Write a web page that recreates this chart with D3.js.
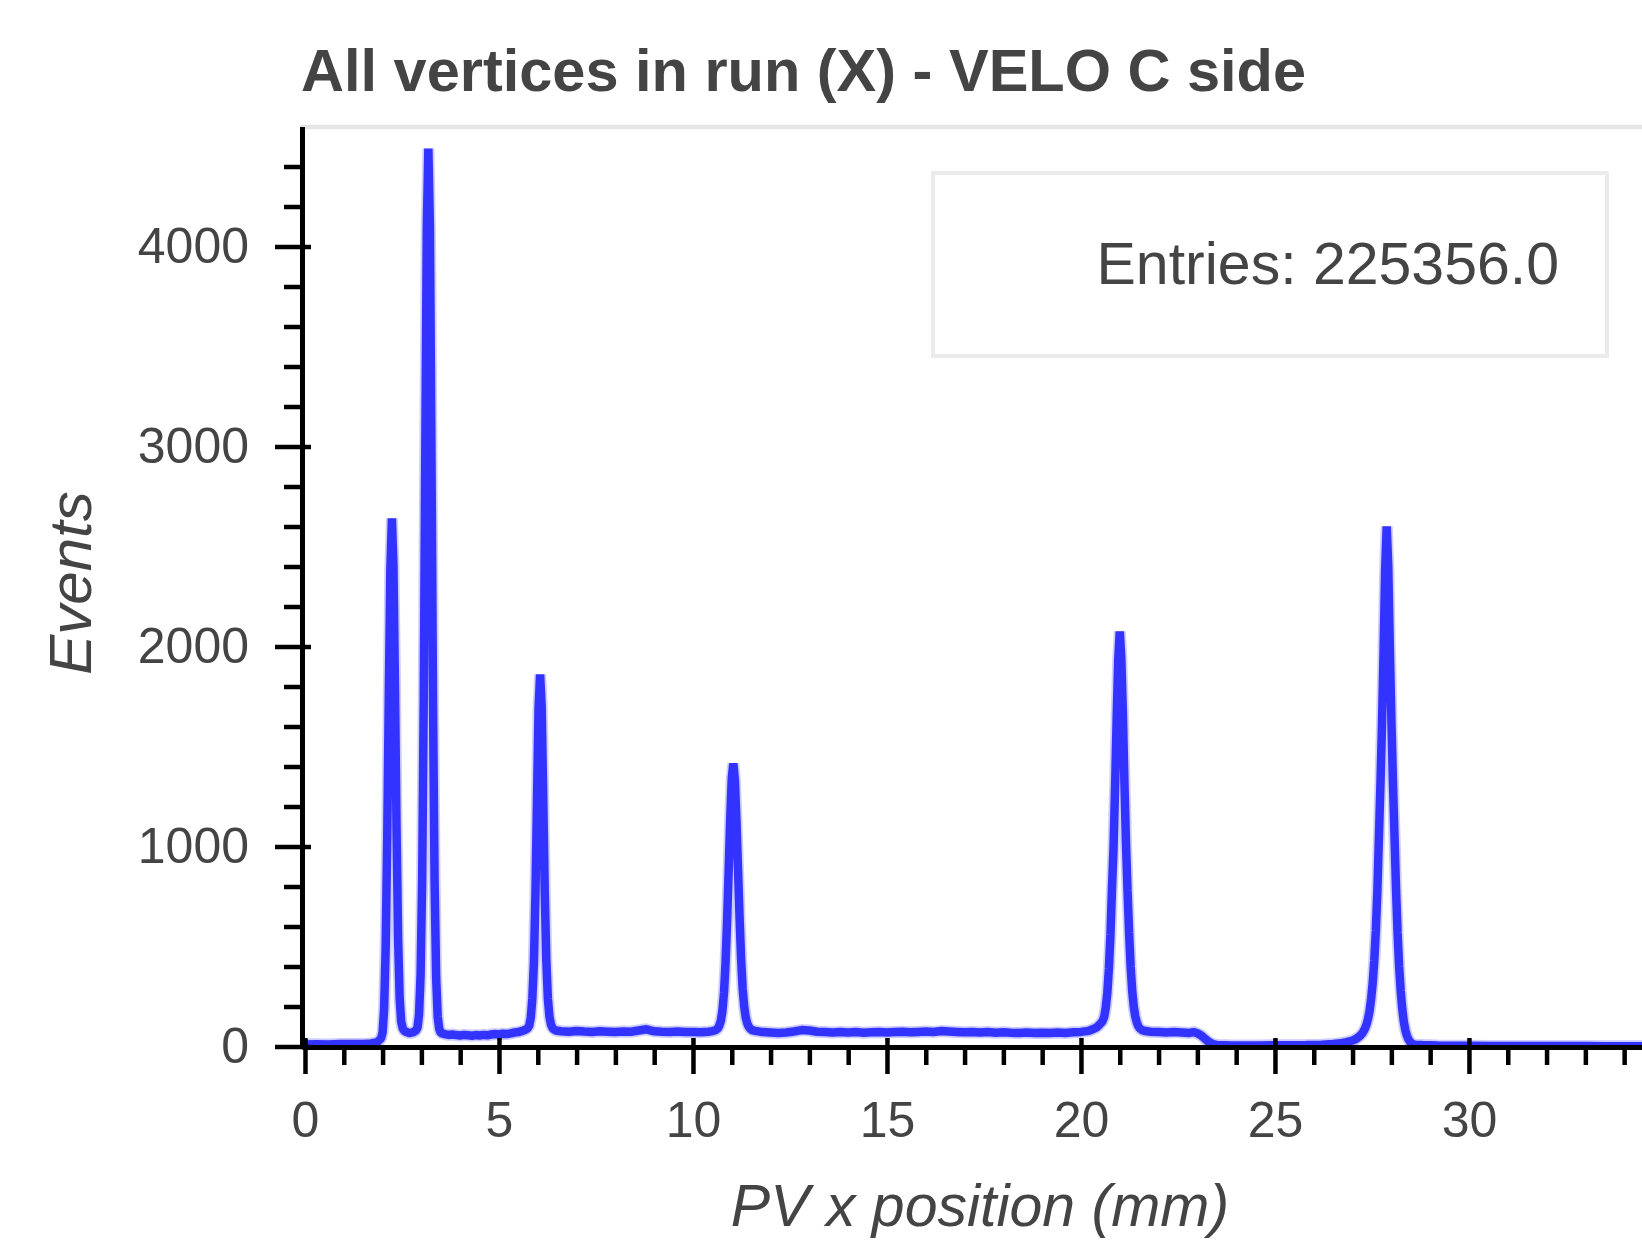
<!DOCTYPE html>
<html><head><meta charset="utf-8">
<script src="https://cdn.jsdelivr.net/npm/d3@7"></script>
<style>html,body{margin:0;padding:0;background:#fff;} svg{display:block;}</style>
</head><body>
<svg id="chart" width="1642" height="1242"></svg>
<script>
// ---------- chart texts ----------
const titleText = "All vertices in run (X) - VELO C side";
const xLabelText = "PV x position (mm)";
const yLabelText = "Events";
const entriesText = "Entries: 225356.0";

// ---------- ticks ----------
const xMajorTicks = [0, 5, 10, 15, 20, 25, 30];
const xMinorTicks = [1, 2, 3, 4, 6, 7, 8, 9, 11, 12, 13, 14, 16, 17, 18, 19, 21, 22, 23, 24, 26, 27, 28, 29, 31, 32, 33, 34];
const yMajorTicks = [0, 1000, 2000, 3000, 4000];
const yMinorTicks = [200, 400, 600, 800, 1200, 1400, 1600, 1800, 2200, 2400, 2600, 2800, 3200, 3400, 3600, 3800, 4200, 4400];

// ---------- data: PV x position (mm) and event counts ----------
const pvX = [
  0.0, 0.3, 0.6, 0.9, 1.2, 1.5, 1.7, 1.85, 1.96,
  2.00, 2.04, 2.08, 2.12, 2.16, 2.20, 2.24, 2.28, 2.32, 2.36, 2.40, 2.44, 2.48, 2.52, 2.56,
  2.62, 2.68, 2.74, 2.80, 2.86,
  2.90, 2.94, 2.98, 3.02, 3.06, 3.10, 3.14, 3.18, 3.22, 3.26, 3.30, 3.34, 3.38, 3.42, 3.46, 3.50,
  3.6, 3.7, 3.8, 3.9, 4.0, 4.1, 4.2, 4.3, 4.4, 4.5, 4.6, 4.7, 4.8, 4.9, 5.0, 5.1, 5.2, 5.3, 5.4, 5.5, 5.6,
  5.66, 5.70, 5.74, 5.78, 5.82, 5.86, 5.90, 5.94, 5.98, 6.02, 6.06, 6.10, 6.14, 6.18, 6.22, 6.26, 6.30, 6.34, 6.38, 6.42, 6.46,
  6.6, 6.8, 7.0, 7.2, 7.4, 7.6, 7.8, 8.0, 8.2, 8.4, 8.6, 8.8, 9.0, 9.2, 9.4, 9.6, 9.8, 10.0, 10.2, 10.4, 10.5,
  10.56, 10.60, 10.64, 10.68, 10.72, 10.76, 10.80, 10.84, 10.88, 10.92, 10.96, 11.00, 11.04, 11.08, 11.12, 11.16, 11.20, 11.24, 11.28, 11.32, 11.36, 11.40, 11.44, 11.48, 11.52,
  11.6, 11.8, 12.0, 12.2, 12.4, 12.6, 12.8, 13.0, 13.2, 13.4, 13.6, 13.8, 14.0, 14.2, 14.4, 14.6, 14.8, 15.0, 15.2, 15.4, 15.6, 15.8,
  16.0, 16.2, 16.4, 16.6, 16.8, 17.0, 17.2, 17.4, 17.6, 17.8, 18.0, 18.2, 18.4, 18.6, 18.8, 19.0, 19.2, 19.4, 19.6, 19.8, 20.0, 20.2, 20.3,
  20.40, 20.44, 20.48, 20.52, 20.56, 20.60, 20.64, 20.68, 20.72, 20.76, 20.80, 20.84, 20.88, 20.92, 20.96, 21.00,
  21.04, 21.08, 21.12, 21.16, 21.20, 21.24, 21.28, 21.32, 21.36, 21.40, 21.44, 21.48, 21.52, 21.56, 21.60,
  21.7, 21.8, 22.0, 22.2, 22.4, 22.6, 22.8, 22.9, 23.0, 23.1, 23.2, 23.3, 23.4, 23.5, 23.8, 24.2, 24.6, 25.0, 25.4, 25.8, 26.2, 26.5, 26.7, 26.8, 26.9,
  27.00, 27.04, 27.08, 27.12, 27.16, 27.20, 27.24, 27.28, 27.32, 27.36, 27.40, 27.44, 27.48, 27.52, 27.56, 27.60, 27.64, 27.68, 27.72, 27.76, 27.80, 27.84, 27.88,
  27.92, 27.96, 28.00, 28.04, 28.08, 28.12, 28.16, 28.20, 28.24, 28.28, 28.32, 28.36, 28.40, 28.44, 28.48, 28.52, 28.56, 28.60,
  28.8, 29.2, 29.6, 30.0, 30.5, 31.0, 31.5, 32.0, 32.5, 33.0, 33.5, 34.0, 34.5, 35.0
];
const events = [
  10, 11, 10, 12, 12, 13, 15, 20, 40,
  70, 190, 500, 1050, 1750, 2380, 2640, 2400, 1790, 1080, 540, 240, 125, 90, 78,
  72, 68, 69, 72, 80,
  95, 160, 360, 830, 1720, 2950, 4100, 4490, 4100, 2950, 1720, 830, 350, 150, 88, 68,
  62, 58, 60, 57, 55, 58, 56, 54, 57, 55, 58, 56, 60, 62, 60, 64, 62, 66, 70, 72, 78,
  82, 86, 92, 104, 145, 240, 420, 760, 1230, 1690, 1860, 1700, 1250, 770, 430, 240, 150, 110, 92, 85, 80,
  76, 74, 78, 75, 73, 76, 74, 72, 75, 74, 80, 86, 76, 74, 73, 75, 72, 73, 71, 74, 77,
  80, 84, 90, 105, 130, 180, 270, 420, 630, 880, 1140, 1340, 1415, 1330, 1130, 890, 650, 440, 290, 200, 145, 115, 98, 88, 82,
  78, 72, 70, 68, 70, 75, 82, 80, 74, 72, 70, 73, 70, 72, 69, 71, 73, 70, 72, 74, 71, 73,
  75, 73, 77, 75, 73, 71, 73, 70, 72, 69, 71, 69, 68, 70, 67, 69, 68, 70, 68, 71, 73, 78, 86,
  95, 102, 110, 118, 128, 150, 195, 270, 390, 560, 790, 1000, 1300, 1640, 1930, 2075,
  1940, 1670, 1320, 1020, 780, 570, 400, 280, 200, 150, 120, 100, 90, 84, 80,
  76, 74, 72, 70, 72, 70, 68, 72, 66, 55, 38, 22, 12, 8, 6, 5, 5, 6, 6, 7, 9, 12, 16, 20, 25,
  30, 33, 37, 42, 48, 55, 63, 75, 90, 110, 140, 180, 240, 320, 430, 580, 780, 1050, 1320, 1620, 1980, 2380, 2600,
  2400, 2000, 1640, 1330, 1060, 790, 570, 400, 280, 190, 125, 82, 55, 36, 24, 16, 12, 9,
  7, 5, 4, 4, 3, 3, 2, 2, 2, 2, 1, 1, 1, 1
];

// ---------- layout ----------
const plot = { left: 302, top: 127, right: 1642, bottom: 1047 };
const textColor = "#444444";
const lineColor = "#3333ff";
const fontFamily = "'Liberation Sans', Arial, Helvetica, sans-serif";

const svg = d3.select("#chart");

const x = d3.scaleLinear().domain([-0.077, 34.46]).range([plot.left, plot.right]);
const y = d3.scaleLinear().domain([0, 4600]).range([1046.5, 126.5]);

// title
svg.append("text")
  .attr("x", 301).attr("y", 91)
  .attr("font-family", fontFamily).attr("font-weight", "bold").attr("font-size", 59)
  .attr("textLength", 1005).attr("lengthAdjust", "spacingAndGlyphs")
  .attr("fill", textColor)
  .text(titleText);

// plot outline (light grey frame, clipped at the right edge)
svg.append("rect")
  .attr("x", plot.left).attr("y", plot.top)
  .attr("width", 1500).attr("height", plot.bottom - plot.top)
  .attr("fill", "none").attr("stroke", "#e5e5e5").attr("stroke-width", 4.5);

// clip for data
svg.append("clipPath").attr("id", "plotclip")
  .append("rect").attr("x", plot.left).attr("y", plot.top - 20)
  .attr("width", plot.right - plot.left + 50).attr("height", plot.bottom - plot.top + 20);

const data = pvX.map((v, i) => [v, events[i]]);
const line = d3.line().x(d => x(d[0])).y(d => y(d[1]));

const g = svg.append("g").attr("clip-path", "url(#plotclip)");
g.append("path").datum(data)
  .attr("d", line)
  .attr("fill", "none").attr("stroke", lineColor)
  .attr("stroke-opacity", 0.25).attr("stroke-width", 12)
  .attr("stroke-linejoin", "bevel");
g.append("path").datum(data)
  .attr("d", line)
  .attr("fill", "none").attr("stroke", lineColor)
  .attr("stroke-width", 8.5)
  .attr("stroke-linejoin", "bevel");

// legend box
svg.append("rect")
  .attr("x", 933).attr("y", 173).attr("width", 674).attr("height", 183)
  .attr("fill", "#fff").attr("stroke", "#ebebeb").attr("stroke-width", 4);
svg.append("text")
  .attr("x", 1559).attr("y", 284)
  .attr("text-anchor", "end")
  .attr("font-family", fontFamily).attr("font-size", 59)
  .attr("fill", textColor)
  .text(entriesText);

// ---------- axes ----------
function styleAxis(sel) {
  sel.selectAll(".tick line").attr("stroke", "#000").attr("stroke-width", 4.5);
  sel.selectAll(".domain").attr("stroke", "#000").attr("stroke-width", 5);
  sel.selectAll("text").attr("fill", textColor)
    .attr("font-family", fontFamily).attr("font-size", 50);
}

// y minor
const yMinor = svg.append("g").attr("transform", `translate(${plot.left},0)`)
  .call(d3.axisLeft(y).tickValues(yMinorTicks).tickSize(18).tickSizeOuter(0).tickFormat(""));
styleAxis(yMinor);
yMinor.select(".domain").remove();

// y major
const yAxis = svg.append("g").attr("transform", `translate(${plot.left},0)`)
  .call(d3.axisLeft(y).tickValues(yMajorTicks).tickSize(27).tickSizeOuter(0).tickPadding(26).tickFormat(d3.format("d")));
yAxis.selectAll(".tick").append("line").attr("x1", 0).attr("x2", 9);
styleAxis(yAxis);

// x minor
const xMinor = svg.append("g").attr("transform", `translate(0,${plot.bottom})`)
  .call(d3.axisBottom(x).tickValues(xMinorTicks).tickSize(18).tickSizeOuter(0).tickFormat(""));
styleAxis(xMinor);
xMinor.select(".domain").remove();

// x major
const xAxis = svg.append("g").attr("transform", `translate(0,${plot.bottom})`)
  .call(d3.axisBottom(x).tickValues(xMajorTicks).tickSize(27).tickSizeOuter(0).tickPadding(27).tickFormat(d3.format("d")));
xAxis.selectAll(".tick").append("line").attr("y1", 0).attr("y2", -9);
styleAxis(xAxis);

// axis labels
svg.append("text")
  .attr("transform", `translate(91,583) rotate(-90)`)
  .attr("text-anchor", "middle")
  .attr("font-family", fontFamily).attr("font-style", "italic").attr("font-size", 60)
  .attr("fill", textColor)
  .text(yLabelText);

svg.append("text")
  .attr("x", 980).attr("y", 1226)
  .attr("text-anchor", "middle")
  .attr("font-family", fontFamily).attr("font-style", "italic").attr("font-size", 59)
  .attr("fill", textColor)
  .text(xLabelText);
</script>
</body></html>
